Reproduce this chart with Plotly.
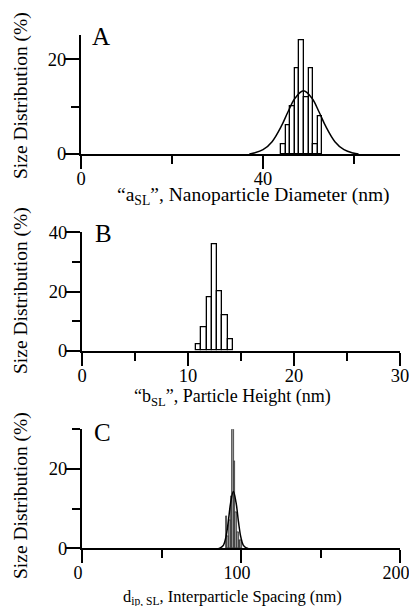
import plotly.graph_objects as go

# ---------------- data ----------------
# Panel A: nanoparticle diameter histogram (nm, %)
a_bin_centers = [44.5, 45.5, 46.5, 47.5, 48.5, 49.5, 50.5, 51.5, 52.5]
a_percent = [2, 6, 10, 18, 24, 12, 18, 2, 8]
a_fit_x = [37, 38, 40, 42, 44, 45.5, 47, 48.9, 50.8, 52.3, 53.8, 55.8, 57.8, 59.8, 61]
a_fit_y = [0.0, 0.2, 0.9, 2.6, 5.8, 8.9, 11.7, 13.3, 11.7, 8.9, 5.8, 2.6, 0.9, 0.2, 0.0]

# Panel B: particle height histogram (nm, %)
b_bin_centers = [11.0, 11.5, 12.0, 12.5, 13.0, 13.5, 14.0]
b_percent = [2, 8, 18, 36, 20, 12, 4]

# Panel C: interparticle spacing histogram (nm, %)
c_bin_centers = [91, 92, 93, 94, 95, 96, 97, 98, 99, 100]
c_percent = [8, 3, 7, 13, 30, 22, 9, 4, 2, 2]
c_fit_x = [86, 87, 89, 90.5, 92, 93.5, 95.2, 96.9, 98.4, 99.9, 101.4, 103.4, 104.5]
c_fit_y = [0.0, 0.1, 0.8, 2.8, 6.7, 11.5, 14.3, 11.5, 6.7, 2.8, 0.8, 0.1, 0.0]

# tick labels
a_xticks = [0, 40]
a_xminor = [20, 60]
a_yticks = [0, 20]
a_yminor = [10]
b_xticks = [0, 10, 20, 30]
b_xminor = [5, 15, 25]
b_yticks = [0, 20, 40]
b_yminor = [10, 30]
c_xticks = [0, 100, 200]
c_xminor = [50, 150]
c_yticks = [0, 20]
c_yminor = [10, 30]

# ---------------- figure ----------------
# the page body has an 8px default margin, so the figure is placed inside it
OFF = 8
W, H = 409, 614 - 2 * OFF
FONT = "Liberation Serif, Times New Roman, serif"

fig = go.Figure()

fig.add_trace(go.Bar(x=a_bin_centers, y=a_percent, width=1.0,
                     marker=dict(color="white", line=dict(color="black", width=1.3)),
                     xaxis="x", yaxis="y", showlegend=False))
fig.add_trace(go.Scatter(x=a_fit_x, y=a_fit_y, mode="lines", line_shape="spline",
                         line=dict(color="black", width=1.5),
                         xaxis="x", yaxis="y", showlegend=False))

fig.add_trace(go.Bar(x=b_bin_centers, y=b_percent, width=0.5,
                     marker=dict(color="white", line=dict(color="black", width=1.3)),
                     xaxis="x2", yaxis="y2", showlegend=False))

fig.add_trace(go.Bar(x=c_bin_centers, y=c_percent, width=1.0,
                     marker=dict(color="#9a9a9a", line=dict(color="#333333", width=0.8)),
                     xaxis="x3", yaxis="y3", showlegend=False))
fig.add_trace(go.Scatter(x=c_fit_x, y=c_fit_y, mode="lines", line_shape="spline",
                         line=dict(color="black", width=1.5),
                         xaxis="x3", yaxis="y3", showlegend=False))


def px_x(p):
    return (p - OFF) / W


def px_y(p):
    return 1 - (p - OFF) / H


def xaxis(rng, dom, yanchor, ticks, minor, shift=0, fs=18.5):
    return dict(range=rng, domain=dom, anchor=yanchor, automargin=False,
                showline=True, linewidth=2, linecolor="black",
                showgrid=False, zeroline=False,
                tickmode="array", tickvals=ticks, ticktext=[str(t) for t in ticks],
                ticks="outside", ticklen=13, tickwidth=2, tickcolor="black",
                ticklabelstandoff=-6, ticklabeloverflow="allow",
                ticklabelshift=shift,
                minor=dict(tickmode="array", tickvals=minor, ticks="outside",
                           ticklen=8, tickwidth=2, tickcolor="black"),
                tickfont=dict(family=FONT, size=fs, color="black"),
                fixedrange=True)


def yaxis(rng, dom, xanchor, ticks, minor):
    return dict(range=rng, domain=dom, anchor=xanchor, automargin=False,
                showline=True, linewidth=2, linecolor="black",
                showgrid=False, zeroline=False,
                tickmode="array", tickvals=ticks, ticktext=[str(t) for t in ticks],
                ticks="outside", ticklen=14, tickwidth=2, tickcolor="black",
                ticklabelstandoff=-5, ticklabeloverflow="allow",
                minor=dict(tickmode="array", tickvals=minor, ticks="outside",
                           ticklen=8, tickwidth=2, tickcolor="black"),
                tickfont=dict(family=FONT, size=18.5, color="black"),
                fixedrange=True)


fig.update_layout(
    width=W, height=H,
    margin=dict(l=0, r=0, t=0, b=0, pad=0, autoexpand=False),
    paper_bgcolor="white", plot_bgcolor="white",
    bargap=0,
    font=dict(family=FONT, color="black"),
    xaxis=xaxis([0, 70], [px_x(81), px_x(399.5)], "y", a_xticks, a_xminor),
    yaxis=yaxis([0, 25], [px_y(154), px_y(35.3)], "x", a_yticks, a_yminor),
    xaxis2=xaxis([0, 30], [px_x(82), px_x(400)], "y2", b_xticks, b_xminor),
    yaxis2=yaxis([0, 40], [px_y(350.7), px_y(232.3)], "x2", b_yticks, b_yminor),
    xaxis3=xaxis([0, 200], [px_x(82), px_x(400)], "y3", c_xticks, c_xminor, shift=-4, fs=18),
    yaxis3=yaxis([0, 30], [px_y(548.3), px_y(429.3)], "x3", c_yticks, c_yminor),
)

annotations = []
# panel letters
for letter, (cx, cy) in zip(["A", "B", "C"], [(101, 37), (103, 233), (102, 432)]):
    annotations.append(dict(text=letter, x=px_x(cx), y=px_y(cy), xref="paper", yref="paper",
                            xanchor="center", yanchor="middle", showarrow=False,
                            font=dict(family=FONT, size=25, color="black")))
# y titles
for cy in [96, 291, 496]:
    annotations.append(dict(text="Size Distribution (%)", x=px_x(21), y=px_y(cy),
                            xref="paper", yref="paper", textangle=-90,
                            xanchor="center", yanchor="middle", showarrow=False,
                            font=dict(family=FONT, size=19.5, color="black")))
# x titles
x_titles = [
    ("\u201ca<sub>SL</sub>\u201d, Nanoparticle Diameter (nm)", 253, 196, 19.5),
    ("\u201cb<sub>SL</sub>\u201d, Particle Height (nm)", 232, 397, 18),
    ("d<sub>ip, SL</sub>, Interparticle Spacing (nm)", 232, 597, 16.5),
]
for txt, cx, cy, fs in x_titles:
    annotations.append(dict(text=txt, x=px_x(cx), y=px_y(cy), xref="paper", yref="paper",
                            xanchor="center", yanchor="middle", showarrow=False,
                            font=dict(family=FONT, size=fs, color="black")))
fig.update_layout(annotations=annotations)

fig.write_html("out.html")
